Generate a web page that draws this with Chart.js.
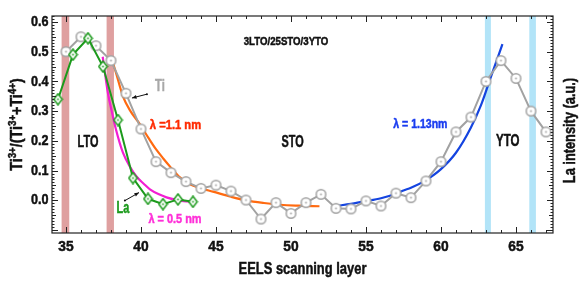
<!DOCTYPE html>
<html>
<head>
<meta charset="utf-8">
<script src="https://cdn.jsdelivr.net/npm/chart.js@4.4.1/dist/chart.umd.min.js"></script>
<style>
  html, body { margin: 0; padding: 0; background: #fff; }
  #wrap { width: 581px; height: 284px; }
</style>
</head>
<body>
<div id="wrap"><canvas id="chartEels"></canvas></div>
<script>
// Ti3+ ratio (grey circles), one value per EELS layer
const tiLayer = [35, 36, 37, 38, 39, 40, 41, 42, 43, 44, 45, 46, 47, 48, 49, 50, 51,
                 52, 53, 54, 55, 56, 57, 58, 59, 60, 61, 62, 63, 64, 65, 66, 67];
const tiRatio = [0.50, 0.55, 0.52, 0.47, 0.36, 0.24, 0.13, 0.093, 0.063, 0.040, 0.051, 0.031, 0.001, -0.063, -0.008, -0.044, -0.008,
                 0.020, -0.027, -0.029, -0.002, -0.019, 0.024, 0.009, 0.065, 0.13, 0.23, 0.28, 0.40, 0.47, 0.41, 0.30, 0.23];

// La intensity (green diamonds)
const laLayer = [34.47, 35.47, 36.47, 37.47, 38.47, 39.47, 40.47, 41.47, 42.47, 43.47];
const laIntensity = [0.34, 0.49, 0.545, 0.45, 0.27, 0.075, 0.005, -0.013, 0.003, -0.005];

// fitted decay curves
const fitTiX = [38.0, 38.3, 38.8, 39.3, 39.9, 40.5, 41.0, 41.5, 42.0, 42.6, 43.3, 44.0, 44.8, 46.0, 47.0, 48.2, 49.3, 50.5, 51.9];
const fitTiY = [0.483, 0.435, 0.35, 0.30, 0.258, 0.21, 0.172, 0.14, 0.11, 0.077, 0.053, 0.04, 0.029, 0.012, 0.0, -0.009, -0.015, -0.018, -0.02];
const fitLaX = [37.45, 37.8, 38.05, 38.3, 38.8, 39.3, 39.7, 40.2, 40.6, 41.2, 41.7, 42.5, 43.3, 43.6];
const fitLaY = [0.483, 0.36, 0.30, 0.245, 0.16, 0.11, 0.08, 0.055, 0.037, 0.02, 0.01, 0.0, -0.005, -0.006];
const fitYtoX = [53.05, 54, 55, 56, 57, 57.5, 58, 59, 60, 61, 62, 62.67, 63.33, 64.1];
const fitYtoY = [-0.019, -0.012, -0.003, 0.007, 0.022, 0.033, 0.042, 0.068, 0.105, 0.16, 0.245, 0.32, 0.415, 0.525];

// interface bands (layer ranges)
const ltoBands = [[34.71, 35.22], [37.71, 38.2]];
const ytoBands = [[62.93, 63.33], [65.89, 66.33]];

const xRange = [34.07, 67.47];
const yRange = [-0.11, 0.62];

const FF = '"Liberation Sans", Arial, sans-serif';
const col = {
  ti: "#a2a2a2",
  la: "#1c9a1c",
  orange: "#ff6a10",
  magenta: "#f21ed2",
  blue: "#1444e0",
  redBand: "#dfa0a0",
  blueBand: "#b2e4f8",
};

function pts(xs, ys) { return xs.map((v, i) => ({ x: v, y: ys[i] })); }

function marker(kind, color) {
  const c = document.createElement("canvas");
  const w = kind === "circle" ? 13 : 11, h = 13;
  c.width = w; c.height = h;
  const g = c.getContext("2d");
  g.lineWidth = 1.5; g.strokeStyle = color; g.fillStyle = "#fff";
  g.beginPath();
  if (kind === "circle") g.arc(w / 2, h / 2, 4.8, 0, Math.PI * 2);
  else { g.moveTo(w / 2, 1); g.lineTo(w - 1.3, h / 2); g.lineTo(w / 2, h - 1); g.lineTo(1.3, h / 2); g.closePath(); }
  g.fill(); g.stroke();
  g.fillStyle = color;
  g.beginPath(); g.arc(w / 2, h / 2, 0.9, 0, Math.PI * 2); g.fill();
  return c;
}

function arrow(ctx, x1, y1, x2, y2) {
  const a = Math.atan2(y2 - y1, x2 - x1);
  ctx.strokeStyle = "#111"; ctx.fillStyle = "#111"; ctx.lineWidth = 1;
  ctx.beginPath(); ctx.moveTo(x1, y1); ctx.lineTo(x2, y2); ctx.stroke();
  ctx.beginPath();
  ctx.moveTo(x2, y2);
  ctx.lineTo(x2 - 5 * Math.cos(a - 0.4), y2 - 5 * Math.sin(a - 0.4));
  ctx.lineTo(x2 - 5 * Math.cos(a + 0.4), y2 - 5 * Math.sin(a + 0.4));
  ctx.closePath(); ctx.fill();
  ctx.beginPath(); ctx.arc(x1, y1, 1, 0, Math.PI * 2); ctx.fill();
}

// condensed bold text: horizontal squeeze sx stands in for Myriad Condensed,
// a thin outline makes up for the lost weight
function say(ctx, t, x, y, size, color, sx, align = "center", rot = 0) {
  ctx.save();
  ctx.translate(x, y); ctx.rotate(rot); ctx.scale(sx, 1);
  ctx.font = `bold ${size}px ${FF}`; ctx.fillStyle = color; ctx.strokeStyle = color;
  ctx.lineWidth = 0.5;
  ctx.textAlign = align; ctx.textBaseline = "middle";
  ctx.fillText(t, 0, 0);
  ctx.strokeText(t, 0, 0);
  ctx.restore();
}

// text with superscripts, centred on (cx, cy), rotated
function richText(ctx, parts, cx, cy, rot, size, sx) {
  const big = `bold ${size}px ${FF}`, small = `bold ${Math.round(size * 0.68)}px ${FF}`;
  let total = 0;
  parts.forEach(([t, sup]) => { ctx.font = sup ? small : big; total += ctx.measureText(t).width; });
  ctx.save();
  ctx.translate(cx, cy); ctx.rotate(rot); ctx.scale(sx, 1);
  ctx.fillStyle = "#111"; ctx.strokeStyle = "#111"; ctx.lineWidth = 0.5;
  ctx.textBaseline = "alphabetic"; ctx.textAlign = "left";
  let x = -total / 2;
  parts.forEach(([t, sup]) => {
    ctx.font = sup ? small : big;
    const yy = sup ? size * 0.35 - size * 0.38 : size * 0.35;
    ctx.fillText(t, x, yy);
    ctx.strokeText(t, x, yy);
    x += ctx.measureText(t).width;
  });
  ctx.restore();
}

const frameAndNotes = {
  id: "frameAndNotes",
  beforeDatasetsDraw(chart) {
    const { ctx, chartArea: a, scales: { x } } = chart;
    ctx.save();
    const band = (r, c) => {
      const x0 = x.getPixelForValue(r[0]), x1 = x.getPixelForValue(r[1]);
      ctx.fillStyle = c; ctx.fillRect(x0, a.top, x1 - x0, a.bottom - a.top);
    };
    ltoBands.forEach(r => band(r, col.redBand));
    ytoBands.forEach(r => band(r, col.blueBand));
    ctx.restore();
  },
  afterDraw(chart) {
    const { ctx, chartArea: a, scales: { x, y } } = chart;
    ctx.save();
    ctx.strokeStyle = "#222"; ctx.lineWidth = 1.2;
    ctx.strokeRect(a.left, a.top, a.right - a.left, a.bottom - a.top);

    // inward ticks
    ctx.lineWidth = 1;
    ctx.beginPath();
    for (let v = 35; v <= 67; v++) {
      const px = Math.round(x.getPixelForValue(v)) + 0.5, L = v % 5 === 0 ? 6 : 3;
      ctx.moveTo(px, a.bottom); ctx.lineTo(px, a.bottom - L);
      ctx.moveTo(px, a.top); ctx.lineTo(px, a.top + L);
    }
    for (let i = -10; i <= 62; i++) {
      const py = Math.round(y.getPixelForValue(i / 100)) + 0.5, L = i % 10 === 0 ? 6 : (i % 5 === 0 ? 4 : 2.5);
      ctx.moveTo(a.left, py); ctx.lineTo(a.left + L, py);
      ctx.moveTo(a.right, py); ctx.lineTo(a.right - L, py);
    }
    ctx.stroke();

    // tick labels from the scales' own ticks
    x.ticks.forEach(t => say(ctx, String(t.value), x.getPixelForValue(t.value), a.bottom + 14, 14.5, "#111", 0.95));
    y.ticks.filter(t => t.value > -0.001).forEach(t =>
      say(ctx, t.value.toFixed(1), a.left - 3.5, y.getPixelForValue(t.value), 15, "#111", 0.84, "right"));

    const P = (lx, ly) => [x.getPixelForValue(lx), y.getPixelForValue(ly)];
    const label = (t, lx, ly, color, size, sx) => say(ctx, t, ...P(lx, ly), size, color, sx);

    label("3LTO/25STO/3YTO", 49.67, 0.532, "#111", 11.5, 0.84);
    label("LTO", 36.47, 0.193, "#111", 16, 0.68);
    label("STO", 50.11, 0.193, "#111", 16, 0.68);
    label("YTO", 64.45, 0.196, "#111", 16, 0.72);
    label("Ti", 41.27, 0.381, "#a8a8a8", 16, 0.7);
    label("La", 38.8, -0.029, col.la, 16, 0.68);
    label("λ =1.1 nm", 42.3, 0.253, "#ff2a00", 13, 0.86);
    label("λ = 0.5 nm", 42.27, -0.063, "#ff30d8", 13, 0.84);
    label("λ = 1.13nm", 58.63, 0.255, "#1a3cf0", 13, 0.81);

    arrow(ctx, ...P(40.4, 0.357), ...P(39.4, 0.344));
    arrow(ctx, ...P(38.93, -0.001), ...P(39.87, 0.026));

    // axis titles
    say(ctx, "EELS scanning layer", (a.left + a.right) / 2, a.bottom + 36, 17, "#111", 0.76);
    richText(ctx, [["Ti", 0], ["3+", 1], ["/(Ti", 0], ["3+", 1], ["+Ti", 0], ["4+", 1], [")", 0]],
      16, (a.top + a.bottom) / 2, -Math.PI / 2, 16, 0.89);
    richText(ctx, [["La intensity (a.u.)", 0]], a.right + 16, (a.top + a.bottom) / 2 + 6, -Math.PI / 2, 16, 0.8);
    ctx.restore();
  }
};

const lineBase = { showLine: true, fill: false, pointRadius: 0, pointHoverRadius: 0, borderWidth: 2.2, cubicInterpolationMode: "monotone" };

new Chart(document.getElementById("chartEels"), {
  type: "scatter",
  data: {
    datasets: [
      { label: "La", data: pts(laLayer, laIntensity), yAxisID: "y2", showLine: true, borderColor: col.la, borderWidth: 2,
        pointStyle: marker("diamond", col.la), order: 0 },
      { label: "Ti", data: pts(tiLayer, tiRatio), showLine: true, borderColor: col.ti, borderWidth: 2,
        pointStyle: marker("circle", col.ti), order: 1 },
      { ...lineBase, label: "fit La", data: pts(fitLaX, fitLaY), borderColor: col.magenta, order: 2 },
      { ...lineBase, label: "fit Ti", data: pts(fitTiX, fitTiY), borderColor: col.orange, order: 3 },
      { ...lineBase, label: "fit YTO", data: pts(fitYtoX, fitYtoY), borderColor: col.blue, order: 4 },
    ]
  },
  options: {
    responsive: true,
    maintainAspectRatio: false,
    animation: false,
    layout: { padding: { top: 16, right: 28, left: 0, bottom: 0 } },
    plugins: { legend: { display: false }, tooltip: { enabled: false } },
    scales: {
      x: {
        type: "linear", min: xRange[0], max: xRange[1],
        grid: { display: false, drawTicks: false }, border: { display: false },
        ticks: { stepSize: 5, includeBounds: false, display: false },
        afterFit: (s) => { s.height = 51; }
      },
      y: {
        type: "linear", position: "left", min: yRange[0], max: yRange[1],
        grid: { display: false, drawTicks: false }, border: { display: false },
        ticks: { stepSize: 0.1, includeBounds: false, display: false },
        afterFit: (s) => { s.width = 52; }
      },
      y2: { type: "linear", display: false, min: yRange[0], max: yRange[1] }
    }
  },
  plugins: [frameAndNotes]
});
</script>
</body>
</html>
